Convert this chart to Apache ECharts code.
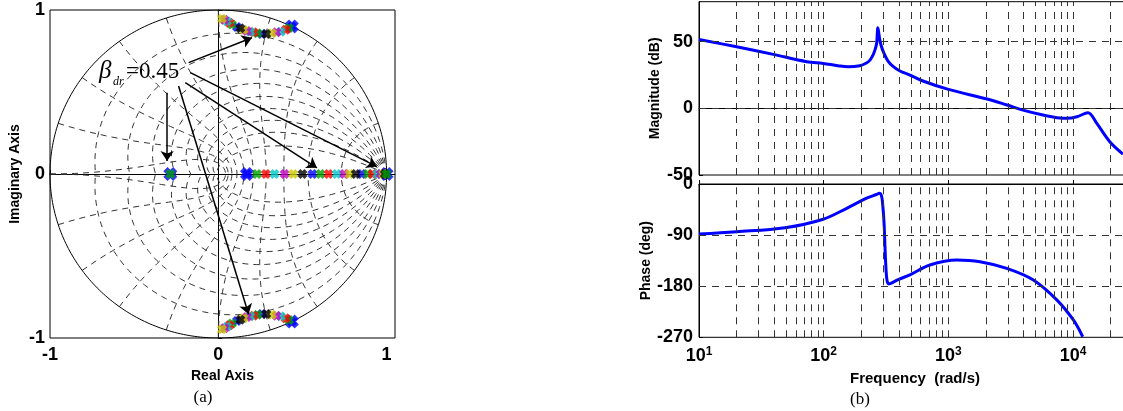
<!DOCTYPE html>
<html>
<head>
<meta charset="utf-8">
<script src="https://cdn.jsdelivr.net/npm/echarts@6/dist/echarts.min.js"></script>
<style>
  html, body { margin: 0; padding: 0; background: #fff; }
  #main { width: 1123px; height: 411px; }
</style>
</head>
<body>
<div id="main"></div>
<script>
// ---------- (a) root locus in the z-plane ----------
// marker colour cycle (b g r c m y k)
const colorOrder = ['#0000ff', '#00a000', '#ff0000', '#00c8c8', '#c000c0', '#c8c800', '#000000']

// upper complex branch, from start (blue) towards the top-left
const upperArc = [
  [0.437, 0.900], [0.420, 0.890], [0.400, 0.880], [0.372, 0.868], [0.346, 0.864],
  [0.318, 0.858], [0.285, 0.854], [0.259, 0.854], [0.233, 0.858], [0.210, 0.864],
  [0.190, 0.867], [0.170, 0.872], [0.150, 0.880], [0.131, 0.888], [0.111, 0.896],
  [0.081, 0.912], [0.066, 0.922], [0.052, 0.932], [0.036, 0.940], [0.022, 0.946]
]
// real-axis branch
const realBranch = [0.17, 0.23, 0.283, 0.334, 0.394, 0.445, 0.50, 0.56, 0.607, 0.655, 0.704,
  0.748, 0.78, 0.817, 0.853, 0.888, 0.916, 0.945, 0.965, 0.98, 0.99, 1.0]
const fixedPoles = [[-0.285, 0], [1.0, 0]]
const startPoles = [[0.17, 0], [0.437, 0.9], [0.437, -0.9], [-0.285, 0], [1.0, 0]]

// annotation arrows [from, to]
const arrows = [
  [[-0.176, 0.679], [0.200, 0.831]],
  [[-0.166, 0.618], [0.942, 0.045]],
  [[-0.196, 0.557], [0.586, 0.038]],
  [[-0.304, 0.496], [-0.304, 0.079]],
  [[-0.236, 0.537], [0.180, -0.855]]
]

// zgrid
const zetaGrid = [0.1, 0.2, 0.3, 0.4, 0.5, 0.6, 0.7, 0.8, 0.9]
const wnGrid = [0.1, 0.2, 0.3, 0.4, 0.5, 0.6, 0.7, 0.8, 0.9, 1.0] // x pi

// ---------- (b) bode ----------
const magFreq = [10, 20, 39.4, 73, 99, 130, 157, 195, 220, 235, 250, 260, 266, 272, 280, 288, 305,
  328, 360, 409, 492, 625, 1000, 2042, 2951, 3963, 5741, 7852, 8933, 10740, 13150, 15490, 19680, 25120]
const magDb = [51.7, 46.2, 40.5, 35, 33.7, 32, 31.2, 32, 34, 36.2, 40.5, 45, 49, 60.5, 53, 47.5, 41,
  35.5, 31.5, 28, 25, 20.5, 14.2, 7, 2.5, -1.3, -5, -7.3, -7.5, -6.3, -3.3, -11.3, -25, -34.3]
const phaseFreq = [10, 20, 49, 99, 153, 221, 265, 279, 290, 297, 305, 310, 316, 322, 332, 345, 400,
  492, 711, 1167, 1791, 2938, 4800, 7396, 10050, 11940]
const phaseDeg = [-88, -84, -77, -62, -42.8, -25, -18.5, -16.4, -20, -35, -70, -110, -150, -170, -176,
  -175, -168, -160, -142.7, -133.9, -136.8, -148.6, -169, -204, -239.5, -269]
const magTicks = [-50, 0, 50]
const magGrid = [0, 50]
const phaseGrid = [-90, -180]

const chart = echarts.init(document.getElementById('main'))

const xMark = 'path://M0,3L3,0L5,2L7,0L10,3L8,5L10,7L7,10L5,8L3,10L0,7L2,5Z'
const sans = 'Liberation Sans'
const dash = { type: [6, 5], color: '#333', width: 1 }

// grid curves of the z-plane
let zgridSeries = []
zetaGrid.forEach(z => {
  const m = z / Math.sqrt(1 - z * z)
  ;[1, -1].forEach(sg => {
    let pts = []
    for (let i = 0; i <= 120; i++) {
      const th = Math.PI * i / 120
      const r = Math.exp(-m * th)
      pts.push([r * Math.cos(th), sg * r * Math.sin(th)])
    }
    zgridSeries.push(pts)
  })
})
wnGrid.forEach(w => {
  const wn = w * Math.PI
  ;[1, -1].forEach(sg => {
    let pts = []
    for (let i = 0; i <= 80; i++) {
      const t = i / 80
      const zeta = 1 - (1 - t) * (1 - t)
      const r = Math.exp(-wn * zeta)
      const a = wn * Math.sqrt(1 - zeta * zeta)
      pts.push([r * Math.cos(a), sg * r * Math.sin(a)])
    }
    zgridSeries.push(pts)
  })
})
let circle = []
for (let i = 0; i <= 360; i++) {
  circle.push([Math.cos(i * Math.PI / 180), Math.sin(i * Math.PI / 180)])
}

// locus points grouped by colour
const lowerArc = upperArc.map(p => [p[0], -p[1]])
const realPts = realBranch.map(x => [x, 0])
let byColor = colorOrder.map(() => [])
;[upperArc, lowerArc, realPts].forEach(branch => {
  branch.forEach((p, i) => byColor[i % 7].push(p))
})

let series = []
zgridSeries.forEach(pts => {
  series.push({
    type: 'line', xAxisIndex: 0, yAxisIndex: 0, data: pts, showSymbol: false,
    lineStyle: dash, silent: true, z: 1, animation: false
  })
})
series.push({
  type: 'line', xAxisIndex: 0, yAxisIndex: 0, data: circle, showSymbol: false,
  lineStyle: { color: '#000', width: 1 }, silent: true, z: 1
})
series.push({
  type: 'scatter', xAxisIndex: 0, yAxisIndex: 0, data: startPoles, symbol: xMark,
  symbolSize: 14, itemStyle: { color: '#0000ff' }, z: 3
})
byColor.forEach((pts, k) => {
  series.push({
    type: 'scatter', xAxisIndex: 0, yAxisIndex: 0, data: pts, symbol: xMark,
    symbolSize: 10, itemStyle: { color: colorOrder[k] }, z: 4
  })
})
series.push({
  type: 'scatter', xAxisIndex: 0, yAxisIndex: 0, data: fixedPoles, symbol: xMark,
  symbolSize: 10, itemStyle: { color: '#00a000' }, z: 5
})
series.push({
  type: 'lines', coordinateSystem: 'cartesian2d', xAxisIndex: 0, yAxisIndex: 0,
  data: arrows.map(a => ({ coords: a })),
  symbol: ['none', 'arrow'], symbolSize: [7, 10],
  lineStyle: { color: '#000', width: 1.5, opacity: 1 }, z: 6
})

// bode panels
const vGrid = []
for (let n = 1; n <= 4; n++) {
  for (let k = 1; k <= 9; k++) {
    if (n === 1 && k === 1) continue
    vGrid.push({ xAxis: k * Math.pow(10, n) })
  }
}
const bodeDash = { type: [7, 6], color: '#333', width: 1 }
series.push({
  type: 'line', xAxisIndex: 1, yAxisIndex: 1, data: [], silent: true, z: 1,
  markLine: {
    silent: true, symbol: ['none', 'none'], label: { show: false }, lineStyle: bodeDash,
    animation: false,
    data: vGrid.concat(magGrid.map(v => ({ yAxis: v })))
  }
})
series.push({
  type: 'line', xAxisIndex: 1, yAxisIndex: 1, showSymbol: false, z: 3,
  smooth: 0.35,
  data: magFreq.map((f, i) => [f, magDb[i]]),
  lineStyle: { color: '#0000ff', width: 3 }
})
series.push({
  type: 'line', xAxisIndex: 2, yAxisIndex: 2, data: [], silent: true, z: 1,
  markLine: {
    silent: true, symbol: ['none', 'none'], label: { show: false }, lineStyle: bodeDash,
    animation: false,
    data: vGrid.concat(phaseGrid.map(v => ({ yAxis: v })))
  }
})
series.push({
  type: 'line', xAxisIndex: 2, yAxisIndex: 2, showSymbol: false, z: 3,
  smooth: 0.35,
  data: phaseFreq.map((f, i) => [f, phaseDeg[i]]),
  lineStyle: { color: '#0000ff', width: 3 }
})

const tickLabel = { color: '#000', fontFamily: sans, fontWeight: 'bold', fontSize: 18 }
const axName = { color: '#000', fontFamily: sans, fontWeight: 'bold', fontSize: 14 }
const blackLine = { show: true, lineStyle: { color: '#000', width: 1 } }
const inTick = { show: true, inside: true, length: 4, lineStyle: { color: '#000' } }
const gridBox = { show: true, borderColor: '#000', borderWidth: 1, containLabel: false, outerBoundsMode: 'none' }

const option = {
  animation: false,
  backgroundColor: '#fff',
  grid: [
    Object.assign({ left: 50, top: 10, width: 345, height: 328 }, gridBox),
    Object.assign({ left: 699, top: 1.7, width: 498.8, height: 173.3 }, gridBox),
    Object.assign({ left: 699, top: 184, width: 498.8, height: 153.3 }, gridBox)
  ],
  xAxis: [
    {
      type: 'value', gridIndex: 0, min: -1, max: 1.05,
      axisLine: blackLine, axisTick: Object.assign({ customValues: [-1, 0, 1] }, inTick),
      axisLabel: Object.assign({ customValues: [-1, 0, 1], margin: 8 }, tickLabel),
      splitLine: { show: false },
      name: 'Real Axis', nameLocation: 'middle', nameGap: 31, nameTextStyle: axName
    },
    {
      type: 'log', logBase: 10, gridIndex: 1, min: 10, max: 100000,
      axisLine: blackLine, axisTick: { show: false }, axisLabel: { show: false },
      splitLine: { show: false }
    },
    {
      type: 'log', logBase: 10, gridIndex: 2, min: 10, max: 100000,
      axisLine: blackLine, axisTick: inTick,
      axisLabel: {
        margin: 8,
        formatter: v => '{b|10}{s|' + Math.round(Math.log10(v)) + '}',
        rich: {
          b: { fontSize: 18, fontWeight: 'bold', fontFamily: sans, color: '#000' },
          s: { fontSize: 12, fontWeight: 'bold', fontFamily: sans, color: '#000', padding: [0, 0, 10, 0] }
        }
      },
      splitLine: { show: false }
    }
  ],
  yAxis: [
    {
      type: 'value', gridIndex: 0, min: -1, max: 1, interval: 1,
      axisLine: blackLine, axisTick: inTick,
      axisLabel: Object.assign({ margin: 5 }, tickLabel),
      splitLine: { show: false },
      name: 'Imaginary Axis', nameLocation: 'middle', nameGap: 28, nameRotate: 90, nameTextStyle: axName
    },
    {
      type: 'value', gridIndex: 1, min: -50, max: 80, interval: 50,
      axisLine: blackLine, axisTick: Object.assign({ customValues: magTicks }, inTick),
      axisLabel: Object.assign({ customValues: magTicks, margin: 6 }, tickLabel),
      splitLine: { show: false },
      name: 'Magnitude (dB)', nameLocation: 'middle', nameGap: 37, nameRotate: 90, nameTextStyle: axName
    },
    {
      type: 'value', gridIndex: 2, min: -270, max: 0, interval: 90,
      axisLine: blackLine, axisTick: inTick,
      axisLabel: Object.assign({ margin: 6 }, tickLabel),
      splitLine: { show: false },
      name: 'Phase (deg)', nameLocation: 'middle', nameGap: 42, nameRotate: 90, nameTextStyle: axName
    }
  ],
  graphic: [
    { type: 'text', left: 99, top: 59, style: { text: 'β', font: 'italic 25px "Liberation Serif"', fill: '#000' } },
    { type: 'text', left: 113, top: 76, style: { text: 'dr', font: 'italic 12px "Liberation Serif"', fill: '#000' } },
    { type: 'text', left: 126, top: 60, style: { text: '=0.45', font: '23px "Liberation Serif"', fill: '#000' } },
    { type: 'text', x: 203, y: 398, style: { text: '(a)', font: '17px "Liberation Serif"', fill: '#000', align: 'center', verticalAlign: 'middle' } },
    { type: 'text', x: 860, y: 400, style: { text: '(b)', font: '17px "Liberation Serif"', fill: '#000', align: 'center', verticalAlign: 'middle' } },
    { type: 'text', x: 915, y: 379, style: { text: 'Frequency  (rad/s)', font: 'bold 15px "Liberation Sans"', fill: '#000', align: 'center', verticalAlign: 'middle' } }
  ],
  series: series
}
chart.setOption(option)
</script>
</body>
</html>
